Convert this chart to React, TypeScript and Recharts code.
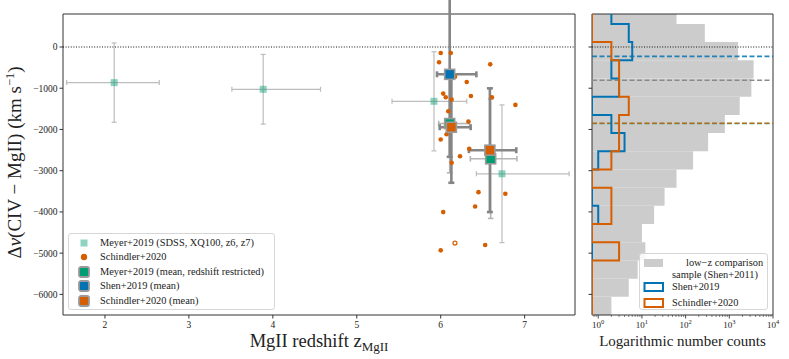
import React from 'react';
import {
  ScatterChart,
  Scatter,
  XAxis,
  YAxis,
  ErrorBar,
  ReferenceLine,
  ReferenceArea,
  Legend,
  Label,
} from 'recharts';

const FONT = '"Liberation Serif", "DejaVu Serif", serif';

// ---------------- main panel data ----------------
const xDomain = [1.5, 7.6];
const yDomain = [-6500, 800];
const xTicks = [2, 3, 4, 5, 6, 7];
const yTicks = [0, -1000, -2000, -3000, -4000, -5000, -6000];

// Meyer+2019 (SDSS, XQ100, z6, z7)
const meyerZ = [2.11, 3.885, 5.92, 6.73];
const meyerDv = [-864, -1026, -1317, -3075];
const meyerZLo = [0.567, 0.373, 0.5, 0.305];
const meyerZHi = [0.537, 0.683, 0.39, 0.8];
const meyerDvErr = [961, 845, 1203, 1670];

// Schindler+2020 individual quasars
const schZ = [
  6.0, 6.12, 5.98, 6.59, 6.17, 6.31, 6.03, 6.06, 6.36, 6.61, 6.89, 6.13, 6.09, 6.33,
  6.11, 6.13, 6.07, 6.0, 6.34, 6.23, 6.13, 6.45, 6.77, 6.41, 6.03, 6.53, 6.0,
];
const schDv = [
  -145, -145, -372, -421, -719, -848, -1131, -1220, -1187, -1220, -1404, -1276, -1559, -1809,
  -1900, -2000, -2116, -2245, -2470, -2649, -2809, -3521, -3559, -3867, -4005, -4804, -4932,
];
const schOpenZ = [6.17];
const schOpenDv = [-4755];

// Means
const meyerMeanZ = [6.107, 6.595];
const meyerMeanDv = [-1857, -2712];
const meyerMeanZLo = [0.131, 0.242];
const meyerMeanZHi = [0.238, 0.313];
const meyerMeanDvErr = [1194, 1445];

const shenMeanZ = [6.107];
const shenMeanDv = [-663];
const shenMeanZLo = [0.151];
const shenMeanZHi = [0.318];
const shenMeanDvErr = [2000];

const schMeanZ = [6.127, 6.586];
const schMeanDv = [-1946, -2503];
const schMeanZLo = [0.139, 0.25];
const schMeanZHi = [0.23, 0.314];
const schMeanDvErr = [1347, 1500];

// ---------------- histogram panel data ----------------
const XMIN = 0.72;
const logDomain = [XMIN, 10000];
const logTicks = [
  0.8, 0.9, 1, 2, 3, 4, 5, 6, 7, 8, 9, 10, 20, 30, 40, 50, 60, 70, 80, 90, 100, 200, 300, 400,
  500, 600, 700, 800, 900, 1000, 2000, 3000, 4000, 5000, 6000, 7000, 8000, 9000, 10000,
];
const binEdges = [
  -6500, -6059, -5618, -5176, -4735, -4294, -3853, -3412, -2971, -2529, -2088, -1647, -1206, -765,
  -324, 118, 559, 1000,
];
// counts per bin, from the lowest bin upwards
const lowzCounts = [2, 5, 8, 12, 10, 19, 33, 62, 148, 327, 790, 1730, 3200, 3600, 1585, 275, 62];
const shenCounts = [0, 0, 0, 0, 0, 1, 0, 0, 1, 4, 2, 0, 3, 2, 6, 5, 2];
const schCounts = [0, 0, 0, 3, 0, 2, 2, 0, 2, 3, 3, 5, 3, 3, 2, 0, 0];

const lineShen = -228;
const lineLowz = -808;
const lineMeyer = -1856;
const lineSch = -1850;

// ---------------- colours ----------------
const BLUE = '#0173b2';
const ORANGE = '#d55e00';
const GREEN = '#029e73';

// ---------------- derived tables ----------------
const meyerData = meyerZ.map((z, i) => ({
  z,
  dv: meyerDv[i],
  ez: [meyerZLo[i], meyerZHi[i]],
  edv: meyerDvErr[i],
}));
const schData = schZ.map((z, i) => ({ z, dv: schDv[i] }));
const schOpenData = schOpenZ.map((z, i) => ({ z, dv: schOpenDv[i] }));
const meyerMeanData = meyerMeanZ.map((z, i) => ({
  z,
  dv: meyerMeanDv[i],
  ez: [meyerMeanZLo[i], meyerMeanZHi[i]],
  edv: meyerMeanDvErr[i],
}));
const shenMeanData = shenMeanZ.map((z, i) => ({
  z,
  dv: shenMeanDv[i],
  ez: [shenMeanZLo[i], shenMeanZHi[i]],
  edv: shenMeanDvErr[i],
}));
const schMeanData = schMeanZ.map((z, i) => ({
  z,
  dv: schMeanDv[i],
  ez: [schMeanZLo[i], schMeanZHi[i]],
  edv: schMeanDvErr[i],
}));

function stepOutline(counts: number[]) {
  const pts: { c: number; e: number }[] = [{ c: XMIN, e: binEdges[0] }];
  counts.forEach((n, i) => {
    const c = Math.max(n, XMIN);
    pts.push({ c, e: binEdges[i] });
    pts.push({ c, e: binEdges[i + 1] });
  });
  pts.push({ c: XMIN, e: binEdges[binEdges.length - 1] });
  return pts;
}
const shenOutline = stepOutline(shenCounts);
const schOutline = stepOutline(schCounts);
const lowzBins = lowzCounts.map((n, i) => ({ n, lo: binEdges[i], hi: binEdges[i + 1] }));

// ---------------- shapes ----------------
const lightSquare = (p: any) => (
  <rect x={p.cx - 3.5} y={p.cy - 3.5} width={7} height={7} fill={GREEN} fillOpacity={0.45} />
);
const dot = (p: any) => <circle cx={p.cx} cy={p.cy} r={2.3} fill={ORANGE} />;
const openDot = (p: any) => (
  <circle cx={p.cx} cy={p.cy} r={2} fill="#fff" stroke={ORANGE} strokeWidth={1.2} />
);
const meanSquare = (color: string) => (p: any) => (
  <rect
    x={p.cx - 5}
    y={p.cy - 5}
    width={10}
    height={10}
    fill={color}
    stroke="#9a9a9a"
    strokeWidth={1.6}
  />
);
const noSymbol = () => <g />;

const minusFmt = (v: number) => (v < 0 ? '\u2212' + Math.abs(v) : String(v));

const LogTick = (props: any) => {
  const { x, y, payload } = props;
  const v = payload.value;
  const lg = Math.log10(v);
  const major = Math.abs(lg - Math.round(lg)) < 1e-6;
  return (
    <g>
      <line
        x1={x}
        x2={x}
        y1={y}
        y2={y + (major ? 3.5 : 2)}
        stroke="#333"
        strokeWidth={major ? 0.9 : 0.6}
      />
      {major && (
        <text x={x} y={y + 13} textAnchor="middle" fontSize={9} fontFamily={FONT} fill="#222">
          10
          <tspan dy={-4} fontSize={6.5}>
            {Math.round(lg)}
          </tspan>
        </text>
      )}
    </g>
  );
};

const XLabelMain = (props: any) => {
  const vb = props.viewBox || { x: 63, y: 315, width: 512 };
  return (
    <text
      x={vb.x + vb.width / 2}
      y={vb.y + 31.5}
      textAnchor="middle"
      fontSize={18.5}
      fontFamily={FONT}
      fill="#222"
    >
      MgII redshift z
      <tspan dy={4} fontSize={13}>
        MgII
      </tspan>
    </text>
  );
};

const YLabelMain = (props: any) => {
  const vb = props.viewBox || { x: 0, y: 14, width: 63, height: 301 };
  const cx = 21;
  const cy = vb.y + vb.height / 2 - 2;
  return (
    <text
      x={cx}
      y={cy}
      transform={`rotate(-90, ${cx}, ${cy})`}
      textAnchor="middle"
      fontSize={19}
      fontFamily={FONT}
      fill="#222"
    >
      Δ<tspan fontStyle="italic">v</tspan>(CIV − MgII) (km s
      <tspan dy={-7} fontSize={12.5}>
        −1
      </tspan>
      <tspan dy={7}>)</tspan>
    </text>
  );
};

const XLabelHist = (props: any) => {
  const vb = props.viewBox || { x: 592, y: 315, width: 181 };
  return (
    <text
      x={vb.x + vb.width / 2}
      y={vb.y + 31}
      textAnchor="middle"
      fontSize={15}
      fontFamily={FONT}
      fill="#222"
    >
      Logarithmic number counts
    </text>
  );
};

// ---------------- legends ----------------
const mainLegendItems = [
  { label: 'Meyer+2019 (SDSS, XQ100, z6, z7)', kind: 'light' },
  { label: 'Schindler+2020', kind: 'dot' },
  { label: 'Meyer+2019 (mean, redshift restricted)', kind: GREEN },
  { label: 'Shen+2019 (mean)', kind: BLUE },
  { label: 'Schindler+2020 (mean)', kind: ORANGE },
];

const MainLegend = () => (
  <div
    style={{
      position: 'relative',
      boxSizing: 'border-box',
      width: 207,
      height: 77,
      border: '1px solid #d6d6d6',
      borderRadius: 3,
      background: 'rgba(255,255,255,0.85)',
      fontFamily: FONT,
      fontSize: 10.4,
      color: '#222',
    }}
  >
    {mainLegendItems.map((it, i) => {
      const cy = 8.5 + i * 14.6;
      return (
        <div
          key={it.label}
          style={{ position: 'absolute', left: 0, top: cy - 7, height: 14, width: 205 }}
        >
          <svg width={24} height={14} style={{ position: 'absolute', left: 3, top: 0 }}>
            {it.kind === 'light' && (
              <rect x={8.5} y={3.5} width={7} height={7} fill={GREEN} fillOpacity={0.45} />
            )}
            {it.kind === 'dot' && <circle cx={12} cy={7} r={3.2} fill={ORANGE} />}
            {it.kind !== 'light' && it.kind !== 'dot' && (
              <rect
                x={7}
                y={2}
                width={10}
                height={10}
                rx={2}
                fill={it.kind}
                stroke="#9a9a9a"
                strokeWidth={1.8}
              />
            )}
          </svg>
          <span
            style={{
              position: 'absolute',
              left: 31,
              top: 0,
              lineHeight: '14px',
              whiteSpace: 'nowrap',
              fontFamily: FONT,
            }}
          >
            {it.label}
          </span>
        </div>
      );
    })}
  </div>
);

const spanStyle = (left: number, top: number): React.CSSProperties => ({
  position: 'absolute',
  left,
  top,
  lineHeight: '14px',
  whiteSpace: 'nowrap',
  fontFamily: FONT,
});

const HistLegend = () => (
  <div
    style={{
      position: 'relative',
      boxSizing: 'border-box',
      width: 129,
      height: 57,
      border: '1px solid #d6d6d6',
      borderRadius: 3,
      background: 'rgba(255,255,255,0.85)',
      fontFamily: FONT,
      fontSize: 10.4,
      color: '#222',
    }}
  >
    <svg width={128} height={56} style={{ position: 'absolute', left: 0, top: 0 }}>
      <rect x={4} y={5} width={19} height={8} fill="#cccccc" />
      <rect x={4.5} y={29} width={18.5} height={8} fill="none" stroke={BLUE} strokeWidth={2} />
      <rect x={4.5} y={45} width={18.5} height={8} fill="none" stroke={ORANGE} strokeWidth={2} />
    </svg>
    <span style={spanStyle(46, 2)}>low−z comparison</span>
    <span style={spanStyle(32, 14)}>sample (Shen+2011)</span>
    <span style={spanStyle(32, 26)}>Shen+2019</span>
    <span style={spanStyle(32, 42)}>Schindler+2020</span>
  </div>
);

const tickStyle = { fontSize: 9.5, fontFamily: FONT, fill: '#222' };

export default function App() {
  return (
    <div
      style={{
        position: 'absolute',
        left: 0,
        top: 0,
        width: 789,
        height: 359,
        background: '#fff',
        overflow: 'hidden',
      }}
    >
      <div style={{ position: 'absolute', left: 0, top: 0 }}>
        <ScatterChart width={580} height={359} margin={{ top: 14, right: 5, bottom: 0, left: 0 }}>
          <XAxis
            type="number"
            dataKey="z"
            domain={xDomain}
            allowDataOverflow
            ticks={xTicks}
            interval={0}
            tickSize={3.5}
            tickMargin={3}
            tick={tickStyle}
            stroke="#333"
            axisLine={false}
            height={44}
          >
            <Label content={<XLabelMain />} />
          </XAxis>
          <YAxis
            type="number"
            dataKey="dv"
            domain={yDomain}
            allowDataOverflow
            ticks={yTicks}
            interval={0}
            tickSize={3.5}
            tickMargin={2}
            tick={tickStyle}
            tickFormatter={minusFmt}
            stroke="#333"
            axisLine={false}
            width={63}
          >
            <Label content={<YLabelMain />} />
          </YAxis>
          <ReferenceLine y={0} stroke="#111" strokeDasharray="1 1.6" strokeWidth={1} />
          <Scatter data={meyerData} shape={lightSquare} isAnimationActive={false}>
            <ErrorBar dataKey="ez" direction="x" width={2.5} stroke="#bdbdbd" strokeWidth={1.2} />
            <ErrorBar dataKey="edv" direction="y" width={2.5} stroke="#bdbdbd" strokeWidth={1.2} />
          </Scatter>
          <Scatter data={schData} shape={dot} isAnimationActive={false} />
          <Scatter data={schOpenData} shape={openDot} isAnimationActive={false} />
          <Scatter data={meyerMeanData} shape={meanSquare(GREEN)} isAnimationActive={false}>
            <ErrorBar dataKey="ez" direction="x" width={2.8} stroke="#b5b5b5" strokeWidth={1.6} />
            <ErrorBar dataKey="edv" direction="y" width={2.8} stroke="#b5b5b5" strokeWidth={1.6} />
          </Scatter>
          <Scatter data={shenMeanData} shape={meanSquare(BLUE)} isAnimationActive={false}>
            <ErrorBar dataKey="ez" direction="x" width={3} stroke="#858585" strokeWidth={2.6} />
            <ErrorBar dataKey="edv" direction="y" width={3} stroke="#858585" strokeWidth={2.6} />
          </Scatter>
          <Scatter data={schMeanData} shape={meanSquare(ORANGE)} isAnimationActive={false}>
            <ErrorBar dataKey="ez" direction="x" width={3} stroke="#858585" strokeWidth={2.6} />
            <ErrorBar dataKey="edv" direction="y" width={3} stroke="#858585" strokeWidth={2.6} />
          </Scatter>
          <ReferenceArea
            x1={xDomain[0]}
            x2={xDomain[1]}
            y1={yDomain[0]}
            y2={yDomain[1]}
            fill="none"
            fillOpacity={0}
            stroke="#333"
            strokeWidth={1}
            ifOverflow="visible"
          />
          <Legend
            layout="vertical"
            align="center"
            verticalAlign="middle"
            wrapperStyle={{ left: 68, top: 233, width: 207, height: 77 }}
            content={() => <MainLegend />}
          />
        </ScatterChart>
      </div>
      <div style={{ position: 'absolute', left: 580, top: 0 }}>
        <ScatterChart width={209} height={359} margin={{ top: 14, right: 16, bottom: 0, left: 0 }}>
          <XAxis
            type="number"
            dataKey="c"
            scale="log"
            domain={logDomain}
            allowDataOverflow
            ticks={logTicks}
            interval={0}
            tickLine={false}
            tickSize={0}
            tickMargin={0}
            tick={<LogTick />}
            axisLine={false}
            height={44}
          >
            <Label content={<XLabelHist />} />
          </XAxis>
          <YAxis
            type="number"
            dataKey="e"
            domain={yDomain}
            allowDataOverflow
            ticks={yTicks}
            interval={0}
            tickSize={3.5}
            tickFormatter={() => ''}
            stroke="#333"
            axisLine={false}
            width={12}
          />
          {lowzBins.map((b, i) => (
            <ReferenceArea
              key={'bin' + i}
              x1={XMIN}
              x2={Math.max(b.n, XMIN)}
              y1={b.lo}
              y2={b.hi}
              fill="#cccccc"
              fillOpacity={1}
              stroke="none"
              ifOverflow="hidden"
            />
          ))}
          <Scatter
            data={shenOutline}
            shape={noSymbol}
            line={{ stroke: BLUE, strokeWidth: 2 }}
            lineType="joint"
            isAnimationActive={false}
          />
          <Scatter
            data={schOutline}
            shape={noSymbol}
            line={{ stroke: ORANGE, strokeWidth: 2 }}
            lineType="joint"
            isAnimationActive={false}
          />
          <ReferenceLine y={0} stroke="#111" strokeDasharray="1 1.6" strokeWidth={1} />
          <ReferenceLine y={lineShen} stroke={BLUE} strokeOpacity={0.85} strokeDasharray="5 2.5" strokeWidth={1.6} />
          <ReferenceLine y={lineLowz} stroke="#8a8a8a" strokeDasharray="5 2.5" strokeWidth={1.6} />
          <ReferenceLine y={lineMeyer} stroke={GREEN} strokeOpacity={0.85} strokeDasharray="5 2.5" strokeWidth={1.6} />
          <ReferenceLine y={lineSch} stroke={ORANGE} strokeOpacity={0.8} strokeDasharray="5 2.5" strokeWidth={1.6} />
          <ReferenceArea
            x1={logDomain[0]}
            x2={logDomain[1]}
            y1={yDomain[0]}
            y2={yDomain[1]}
            fill="none"
            fillOpacity={0}
            stroke="#333"
            strokeWidth={1}
            ifOverflow="visible"
          />
          <Legend
            layout="vertical"
            align="center"
            verticalAlign="middle"
            wrapperStyle={{ left: 59, top: 253, width: 129, height: 57 }}
            content={() => <HistLegend />}
          />
        </ScatterChart>
      </div>
    </div>
  );
}
